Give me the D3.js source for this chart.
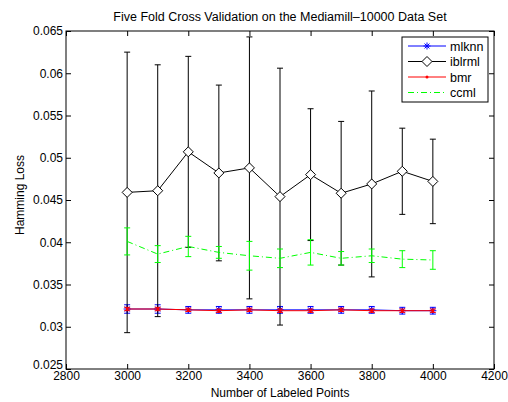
<!DOCTYPE html>
<html><head><meta charset="utf-8">
<script src="https://cdn.jsdelivr.net/npm/d3@7"></script>
<style>body{margin:0;background:#fff}text{font-family:"Liberation Sans",Arial,sans-serif}</style>
</head><body>
<script>
const xs = [3000,3100,3200,3300,3400,3500,3600,3700,3800,3900,4000];
const mlknnMean = [0.0321,0.0321,0.0320,0.0320,0.0320,0.0320,0.0320,0.0320,0.0320,0.0319,0.0319];
const mlknnStd  = [0.0005,0.0005,0.0004,0.0004,0.0004,0.0004,0.0004,0.0004,0.0004,0.0004,0.0004];
const iblrmlMean = [0.0459,0.0461,0.0507,0.0482,0.0488,0.0454,0.0480,0.0458,0.0469,0.0484,0.0472];
const iblrmlStd  = [0.0166,0.0149,0.0113,0.0104,0.0155,0.0152,0.0078,0.0085,0.0110,0.0051,0.0050];
const bmrMean = [0.0321,0.0321,0.0320,0.0319,0.0320,0.0319,0.0319,0.0320,0.0319,0.0319,0.0319];
const bmrStd  = [0.0002,0.0002,0.0002,0.0002,0.0002,0.0002,0.0002,0.0002,0.0002,0.0002,0.0002];
const ccmlMean = [0.0401,0.0386,0.0395,0.0388,0.0384,0.0381,0.0388,0.0381,0.0384,0.0380,0.0379];
const ccmlStd  = [0.0016,0.0010,0.0012,0.0007,0.0017,0.0011,0.0015,0.0008,0.0008,0.0010,0.0011];
const xTicks = [2800,3000,3200,3400,3600,3800,4000,4200];
const yTicks = [0.025,0.03,0.035,0.04,0.045,0.05,0.055,0.06,0.065];
const seriesNames = ["mlknn","iblrml","bmr","ccml"];

const W=508,H=402, L=66, R=494, T=31, B=369;
const svg = d3.select("body").append("svg").attr("width",W).attr("height",H);
const x = d3.scaleLinear().domain([2800,4200]).range([L,R]);
const y = d3.scaleLinear().domain([0.025,0.065]).range([B,T]);

const FS = 12;
const fmtY = d => String(+d.toFixed(3));
svg.append("g").attr("transform",`translate(0,${B})`)
  .call(d3.axisBottom(x).tickValues(xTicks).tickSizeInner(-5).tickSizeOuter(0).tickPadding(2).tickFormat(d3.format("d")))
  .call(g=>{g.select(".domain").remove();g.selectAll("text").attr("font-size",FS).attr("fill","#000");});
svg.append("g").attr("transform",`translate(0,${T})`)
  .call(d3.axisTop(x).tickValues(xTicks).tickSizeInner(-5).tickSizeOuter(0).tickFormat(""))
  .call(g=>g.select(".domain").remove());
svg.append("g").attr("transform",`translate(${L},0)`)
  .call(d3.axisLeft(y).tickValues(yTicks).tickSizeInner(-5).tickSizeOuter(0).tickPadding(3).tickFormat(fmtY))
  .call(g=>{g.select(".domain").remove();
    g.selectAll("text").attr("font-size",FS).attr("fill","#000");
    g.selectAll(".tick").filter(d=>d===0.025).select("text").attr("dy","-0.05em");});
svg.append("g").attr("transform",`translate(${R},0)`)
  .call(d3.axisRight(y).tickValues(yTicks).tickSizeInner(-5).tickSizeOuter(0).tickFormat(""))
  .call(g=>g.select(".domain").remove());
svg.append("rect").attr("x",L).attr("y",T).attr("width",R-L).attr("height",B-T)
  .attr("fill","none").attr("stroke","#000").attr("stroke-width",1);

const plot = svg.append("g");
const cap = 3;
function drawSeries(mean,std,color,dash,marker){
  const g = plot.append("g");
  const data = xs.map((v,i)=>({x:v,m:mean[i],s:std[i]}));
  data.forEach(d=>{
    const x0=x(d.x), y1=y(d.m+d.s), y2=y(d.m-d.s);
    g.append("line").attr("x1",x0).attr("x2",x0).attr("y1",y1).attr("y2",y2).attr("stroke",color).attr("stroke-width",1);
    g.append("line").attr("x1",x0-cap).attr("x2",x0+cap).attr("y1",y1).attr("y2",y1).attr("stroke",color).attr("stroke-width",1);
    g.append("line").attr("x1",x0-cap).attr("x2",x0+cap).attr("y1",y2).attr("y2",y2).attr("stroke",color).attr("stroke-width",1);
  });
  g.append("path").datum(data)
    .attr("d",d3.line().x(d=>x(d.x)).y(d=>y(d.m)))
    .attr("fill","none").attr("stroke",color).attr("stroke-width",1)
    .attr("stroke-dasharray",dash||null);
  data.forEach(d=>drawMarker(g,marker,x(d.x),y(d.m),color));
}
function drawMarker(g,marker,cx,cy,color){
  if(marker==="star"){
    const r=3.5;
    [[r,0],[0,r],[r*0.7,r*0.7],[r*0.7,-r*0.7]].forEach(([dx,dy])=>{
      g.append("line").attr("x1",cx-dx).attr("x2",cx+dx).attr("y1",cy-dy).attr("y2",cy+dy).attr("stroke",color).attr("stroke-width",1);
    });
  } else if(marker==="diamond"){
    const r=5;
    g.append("path").attr("d",`M${cx},${cy-r}L${cx+r},${cy}L${cx},${cy+r}L${cx-r},${cy}Z`)
      .attr("fill","#fff").attr("stroke",color).attr("stroke-width",1);
  } else if(marker==="dot"){
    g.append("circle").attr("cx",cx).attr("cy",cy).attr("r",1.5).attr("fill",color);
  }
}
drawSeries(mlknnMean,mlknnStd,"#0000ff",null,"star");
drawSeries(iblrmlMean,iblrmlStd,"#000000",null,"diamond");
drawSeries(bmrMean,bmrStd,"#ff0000",null,"dot");
drawSeries(ccmlMean,ccmlStd,"#00ff00","6,3,1,3",null);

// legend
const lg = svg.append("g");
lg.append("rect").attr("x",402).attr("y",37).attr("width",86).attr("height",65)
  .attr("fill","#fff").attr("stroke","#000").attr("stroke-width",1);
const legColors=["#0000ff","#000000","#ff0000","#00ff00"];
const legMarkers=["star","diamond","dot",null];
const legDash=[null,null,null,"6,3,1,3"];
seriesNames.forEach((n,i)=>{
  const yy = 46 + i*15.5;
  lg.append("line").attr("x1",408).attr("x2",446).attr("y1",yy).attr("y2",yy)
    .attr("stroke",legColors[i]).attr("stroke-width",1).attr("stroke-dasharray",legDash[i]);
  if(legMarkers[i]) drawMarker(lg,legMarkers[i],427,yy,legColors[i]);
  lg.append("text").attr("x",450).attr("y",yy+4.5).attr("font-size",12.5).text(n);
});

svg.append("text").attr("x",280).attr("y",21).attr("text-anchor","middle").attr("font-size",12.5)
  .text("Five Fold Cross Validation on the Mediamill\u201310000 Data Set");
svg.append("text").attr("x",280).attr("y",397).attr("text-anchor","middle").attr("font-size",12)
  .text("Number of Labeled Points");
svg.append("text").attr("transform","translate(24,195) rotate(-90)").attr("text-anchor","middle").attr("font-size",12)
  .text("Hamming Loss");
</script>
</body></html>
